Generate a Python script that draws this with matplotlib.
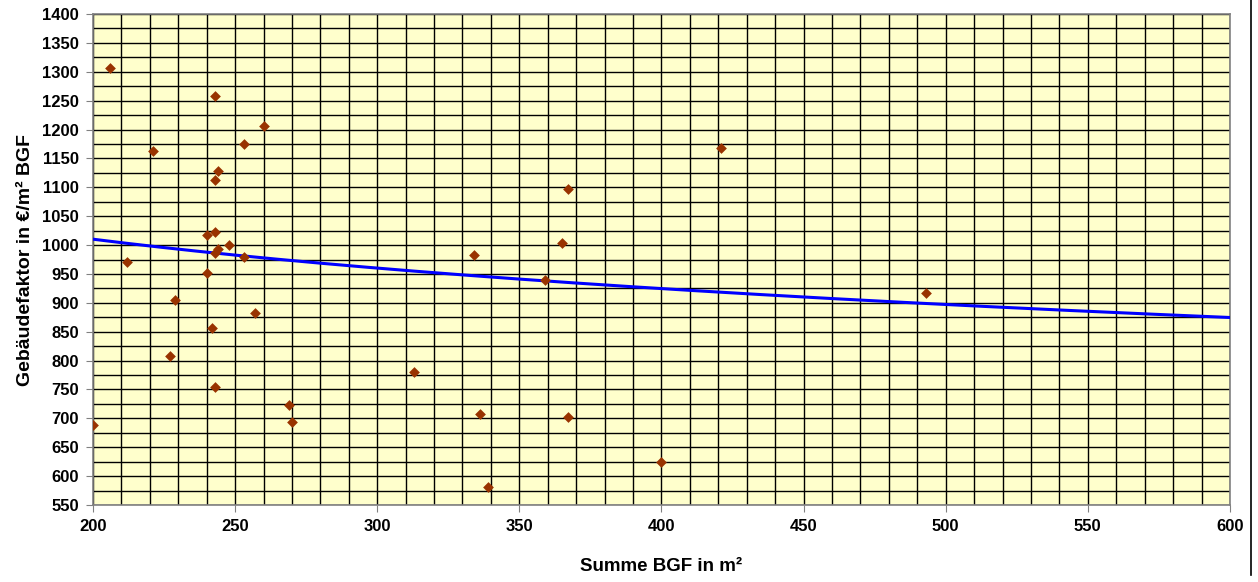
#Scatter of building factor vs. gross floor area with logarithmic trend line

import numpy as np
from matplotlib import pyplot as plt
from matplotlib.lines import Line2D

plt.rcParams['font.family'] = ['Liberation Sans Narrow', 'Liberation Sans', 'DejaVu Sans']
plt.rcParams['font.weight'] = 'bold'

#Data
bgf = [200, 206, 212, 221, 227, 229, 240, 240, 242, 243, 243, 244, 243, 244, 243,
       248, 243, 253, 253, 257, 260, 269, 270, 313, 334, 336, 339, 359, 365, 367,
       367, 400, 421, 493]
faktor = [688, 1307, 970, 1163, 808, 905, 1018, 951, 857, 1258, 1112, 1128, 1023, 993, 986,
          1000, 754, 1175, 979, 882, 1206, 723, 693, 780, 983, 708, 582, 940, 1003, 1097,
          703, 624, 1168, 917]

#Logarithmic trend line y = a + b*ln(x), coefficients
trend_a = 1664.0
trend_b = -123.4
trend_x = np.linspace(200, 600, 200)
trend_y = trend_a + trend_b * np.log(trend_x)

fig = plt.figure(figsize=(12.58, 5.82), dpi=100)
ax = fig.add_axes([0.0739, 0.1323, 0.9038, 0.8436])
ax.set_facecolor('#FFFFCC')

ax.plot(trend_x, trend_y, color='#0000FF', linewidth=2.2, zorder=3)
ax.scatter(bgf, faktor, marker='D', s=30, color='#993300', zorder=4, linewidths=0)

ax.set_xlim(200, 600)
ax.set_ylim(550, 1400)
ax.set_xticks(np.arange(200, 601, 50))
ax.set_yticks(np.arange(550, 1401, 50))
ax.set_xticks(np.arange(200, 601, 10), minor=True)
ax.set_yticks(np.arange(550, 1401, 25), minor=True)
ax.grid(which='both', color='black', linewidth=1.0)
ax.set_axisbelow(True)
ax.tick_params(which='minor', length=0)
ax.tick_params(which='major', length=5, direction='out', color='#808080', labelsize=12, pad=5)
for spine in ax.spines.values():
    spine.set_color('#808080')
    spine.set_linewidth(1.2)

ax.set_xlabel('Summe BGF in m²', fontsize=13.5, fontweight='bold', labelpad=17)
ax.set_ylabel('Gebäudefaktor in €/m² BGF', fontsize=14, fontweight='bold', labelpad=6)

#Right edge of chart area border
fig.add_artist(Line2D([0.9945, 0.9945], [0.012, 1.0], color='black', linewidth=1.2))

plt.savefig('out.png', dpi=100)
